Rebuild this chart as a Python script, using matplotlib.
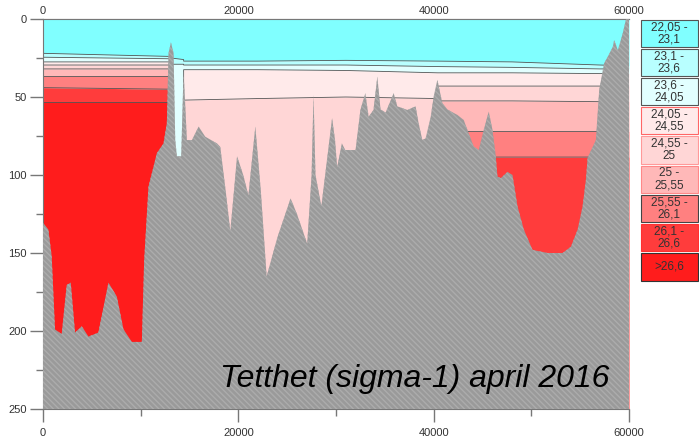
import numpy as np
import matplotlib
matplotlib.use("Agg")
import matplotlib.pyplot as plt
from matplotlib.patches import Rectangle

plt.rcParams['font.family'] = ['Liberation Sans', 'DejaVu Sans']

# distance langs snittet (m) der lagdelingen endrer seg (doble punkt = sprang over terskel)
sec_x = [0, 6500, 13100, 13100, 14400, 14400, 22000, 31000, 40400, 40400, 48000, 57000, 60000]
# dybde (m) til grensene mellom tetthetsklassene
b1 = [22, 23, 24, 25, 26, 27, 27, 26.5, 27, 27, 27.5, 29.5, 30]
b2 = [24.5, 25, 25.5, 29, 29, 29.5, 29.5, 29.5, 30.5, 30.5, 31, 32, 32]
b3 = [27.5, 27.5, 27.5, 300, 300, 32.5, 32.5, 33, 34.5, 34.5, 34.5, 35, 35]
b4 = [29.5, 29.5, 29.5, 300, 300, 52, 51, 50, 51, 43, 43, 43, 43]
b5 = [32, 32, 32, 300, 300, 300, 300, 300, 300, 52.5, 52.5, 53, 53]
b6 = [36.5, 36.5, 36.5, 300, 300, 300, 300, 300, 300, 72, 72, 72, 72]
b7 = [44, 44.5, 45, 300, 300, 300, 300, 300, 300, 88.5, 88.5, 88.5, 88.5]
b8 = [53, 53, 53, 300, 300, 300, 300, 300, 300, 300, 300, 300, 300]

# bunnprofil
bed_x = [0, 550, 890, 1230, 1915, 2430, 2840, 3280, 3970, 4650, 5670, 6700, 7560, 8240,
         9100, 10120, 10360, 10800, 11660, 12340, 12680, 12850, 13100, 13370, 13540, 13710,
         14150, 14390, 14600, 14730, 15250, 15930, 16610, 17470, 17810, 18150, 18700, 19180,
         19870, 20500, 21030, 21740, 22300, 22900, 24000, 25350, 26000, 27050, 27500, 27700,
         27900, 28500, 29600, 29900, 30120, 30600, 30950, 32000, 32500, 33000, 33340, 33840,
         34230, 34560, 35080, 35900, 36280, 37310, 38150, 38460, 38840, 39180, 39700, 40000,
         40380, 40890, 41400, 42430, 43080, 44100, 44620, 45130, 45640, 46020, 46360, 46530,
         46870, 47560, 48070, 48580, 49230, 50120, 51660, 53200, 54050, 54740, 55250, 55590,
         55760, 56610, 56950, 57450, 57840, 58350, 58480, 58860, 59370, 59700, 60000]
bed_d = [130.5, 135, 152, 199, 202, 170.5, 169, 201, 197, 203.6, 201, 169, 178, 199,
         207, 207, 154.5, 107.5, 86, 79.7, 66.8, 22, 15, 22, 77.6, 88,
         88, 33.8, 60, 77.6, 77.6, 69, 75.4, 78.6, 79.7, 82, 110, 136,
         88, 100, 113, 69, 110, 165, 140, 115, 125, 144, 100, 48.7,
         100, 120, 63.5, 77.6, 95, 79.7, 84, 84, 58.3, 47.6, 62.6, 58.3,
         37, 58, 60, 47.6, 56, 58.3, 56, 66.9, 77.6, 76.5, 62.6, 49.8,
         39, 54, 58, 61.5, 64.8, 81.8, 84, 71, 59.4, 71, 88, 101,
         102, 98, 100, 120, 135, 148, 150, 150, 146, 135, 120, 103,
         89, 77.6, 45.5, 28.4, 24, 17.7, 13.5, 20, 9, 0, 0]

labels = ["22,05 -\n23,1", "23,1 -\n23,6", "23,6 -\n24,05", "24,05 -\n24,55", "24,55 -\n25",
          "25 -\n25,55", "25,55 -\n26,1", "26,1 -\n26,6", ">26,6"]
colors = ['#80ffff', '#b8ffff', '#e2ffff', '#ffeaea', '#ffd6d6', '#ffb8b8', '#ff8080',
          '#ff3c3c', '#ff1c1c']
edge_cols = ['#555555', '#555555', '#555555', '#ff6666', '#ff9999', '#ff8888', '#444444',
             '#ff3030', '#333333']
xt = [0, 20000, 40000, 60000]

fig = plt.figure(figsize=(6.99, 4.43), dpi=100)
ax = fig.add_axes([43/699, 1-409/443, 586/699, 390/443])

bounds = [np.zeros(len(sec_x)), b1, b2, b3, b4, b5, b6, b7, b8, np.full(len(sec_x), 300)]
for i in range(9):
    ax.fill_between(sec_x, bounds[i], bounds[i+1], color=colors[i], lw=0, zorder=1)
for b in bounds[1:-1]:
    ax.plot(sec_x, b, color='#555555', lw=0.6, zorder=2)

ax.fill_between(bed_x, bed_d, 300, facecolor='#9a9a9a', edgecolor='#acacac',
                hatch='\\\\\\\\\\\\', lw=0, zorder=3)

ax.text(58000, 236, "Tetthet (sigma-1) april 2016", fontsize=23, style='italic',
        ha='right', va='baseline', color='black', zorder=5)

ax.set_xlim(0, 60000)
ax.set_ylim(250, 0)
ax.set_xticks(xt)
ax.set_xticks([10000, 30000, 50000], minor=True)
ax.set_yticks(range(0, 251, 50))
ax.set_yticks(range(25, 250, 50), minor=True)
ax.tick_params(axis='both', which='major', length=9.5, width=1, color='#777777',
               labelsize=8, labelcolor='#333333')
ax.tick_params(axis='both', which='minor', length=5, width=1, color='#777777')
ax.tick_params(axis='x', top=False, labeltop=False, pad=4)
ax.tick_params(axis='y', pad=2)
for s in ['left', 'bottom', 'top']:
    ax.spines[s].set_color('#777777')
ax.spines['right'].set_visible(False)

top = ax.secondary_xaxis('top')
top.set_xticks(xt)
top.tick_params(length=0, pad=2, labelsize=8, labelcolor='#333333')
top.spines['top'].set_color('#777777')

# tegnforklaring
lax = fig.add_axes([640/699, 1-283/443, 59/699, 264/443])
lax.set_xlim(0, 59)
lax.set_ylim(264, 0)
lax.axis('off')
step = 263/9
for i in range(9):
    lax.add_patch(Rectangle((0.5, i*step + 0.5), 57.5, step - 2, facecolor=colors[i],
                            edgecolor=edge_cols[i], lw=0.8))
    lax.text(29, i*step + (step - 2)/2 + 0.5, labels[i], ha='center', va='center',
             fontsize=8.5, color='#333333', linespacing=1.0)

fig.savefig('out.png', dpi=100)
